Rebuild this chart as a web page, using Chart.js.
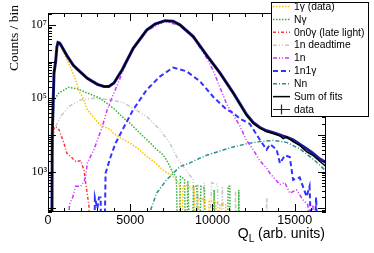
<!DOCTYPE html>
<html>
<head>
<meta charset="utf-8">
<title>Q_L spectrum fit</title>
<script src="https://cdn.jsdelivr.net/npm/chart.js@4/dist/chart.umd.min.js"></script>
<style>
  html, body { margin: 0; padding: 0; background: #fff; }
  canvas { display: block; }
</style>
</head>
<body>
<canvas id="qlChart" width="374" height="253"></canvas>
<script>
// counts per bin (0 = empty bin)
const qSum = [225, 260, 365, 465, 540, 608, 700, 770, 1170, 1540, 1780, 2390, 3000, 3400, 3700, 4010, 4510, 5180, 6000, 6500, 7110, 7600, 8020, 8830, 9640, 10450, 11260, 12070, 12470, 12880, 13290, 13700, 14100, 14300, 14500, 14900, 15300, 15720, 16100, 16530, 16900];
const nSum = [0, 11000, 490000, 1.0e6, 2.5e6, 3.3e6, 3.2e6, 2.9e6, 1.4e6, 7.9e5, 6.2e5, 3.5e5, 2.4e5, 2.1e5, 2.1e5, 2.6e5, 6.0e5, 2.3e6, 7.2e6, 1.05e7, 1.3e7, 1.25e7, 1.0e7, 4.8e6, 1.5e6, 4.9e5, 1.4e5, 3.5e4, 2.1e4, 1.55e4, 1.25e4, 1.1e4, 9500, 8000, 8900, 6600, 5200, 3500, 2800, 1900, 1400];
const nData = [0, 11000, 490000, 1.0e6, 2.5e6, 3.3e6, 3.2e6, 2.9e6, 1.4e6, 7.9e5, 6.2e5, 3.5e5, 2.4e5, 2.1e5, 2.1e5, 2.6e5, 6.0e5, 2.3e6, 7.2e6, 1.05e7, 1.3e7, 1.25e7, 1.0e7, 4.8e6, 1.5e6, 4.9e5, 1.4e5, 3.6e4, 2.2e4, 1.6e4, 1.3e4, 1.15e4, 1.0e4, 9300, 8700, 7400, 5600, 4200, 3200, 2200, 1800];

const qGamma = [225, 250, 365, 465, 540, 608, 700, 770, 1170, 1340, 1680, 1940, 2090, 2390, 2550, 3000, 3160, 3810, 3970, 4620, 4980, 5500, 6000, 6500, 7000, 7610, 8000, 8100, 8200, 8450, 8900, 9000, 9100, 9500, 9650, 9800, 10200, 10300, 10450, 10800, 10900];
const nGamma = [0, 7900, 4.0e5, 1.0e6, 2.5e6, 3.3e6, 3.0e6, 2.6e6, 1.1e6, 7.4e5, 3.2e5, 1.4e5, 1.1e5, 4.9e4, 4.0e4, 2.3e4, 1.9e4, 1.4e4, 1.1e4, 7400, 6000, 4200, 2600, 1800, 1100, 740, 450, 0, 400, 420, 350, 0, 180, 180, 0, 160, 160, 0, 125, 125, 0];

const qNGamma = [225, 260, 365, 500, 670, 1170, 1240, 1780, 2390, 3160, 4010, 4620, 4980, 5790, 6300, 6600, 6900, 7210, 7610, 7800, 7950, 8050, 8300, 8400, 8500, 8700, 8850, 9050, 9150, 9300, 9500, 9600, 10000, 10100, 10200, 10900, 10950, 11050, 11100, 11550, 11600, 11650];
const nNGamma = [0, 3200, 81000, 1.1e5, 1.4e5, 1.9e5, 2.0e5, 1.8e5, 1.4e5, 1.0e5, 52000, 28000, 21000, 9100, 5600, 4000, 3200, 2100, 910, 700, 0, 740, 630, 0, 560, 0, 400, 400, 0, 400, 350, 0, 0, 320, 0, 0, 400, 400, 0, 0, 320, 0];

const qLate = [225, 250, 365, 465, 670, 970, 1140, 1380, 1680, 1990, 2190, 2290, 2490, 2600];
const nLate = [0, 3200, 16000, 17000, 14000, 6000, 3200, 2600, 1900, 2000, 1100, 490, 115, 0];

const qDead = [225, 260, 365, 770, 1280, 1990, 2790, 3810, 4620, 4980, 6000, 6800, 7410, 7810, 8220, 8830, 9000, 9100, 9300, 9500, 9700, 9950, 10300, 10400, 10600, 10800, 11300, 11400, 11500, 13200, 13300, 13400];
const nDead = [0, 3200, 14000, 32000, 60000, 91000, 1.0e5, 91000, 74000, 60000, 32000, 14000, 6000, 2600, 1400, 600, 0, 450, 0, 500, 0, 500, 450, 0, 400, 0, 0, 300, 0, 0, 200, 0];

const q1n = [1100, 1300, 1500, 1680, 1990, 2200, 2290, 2390, 2790, 3300, 3600, 4010, 4420, 4800, 5180, 6000, 7110, 8020, 8830, 9640, 10050, 10450, 10850, 11260, 11660, 12070, 12470, 12880, 13290, 13490, 14100, 14400, 14700, 15100, 15510, 15800, 15950, 16100, 16250];
const n1n = [0, 125, 200, 400, 400, 560, 740, 1740, 4000, 17000, 49000, 1.4e5, 3.9e5, 1.0e6, 2.2e6, 6.9e6, 1.26e7, 9.5e6, 4.5e6, 1.26e6, 5.6e5, 2.0e5, 7.1e4, 3.5e4, 1.8e4, 7100, 4000, 2000, 1260, 910, 450, 500, 260, 320, 170, 125, 0, 125, 0];

const q1n1g = [2800, 2850, 3000, 3100, 3200, 3250, 3400, 3500, 3810, 4110, 4600, 5180, 6000, 6800, 7610, 8430, 9240, 10040, 10860, 11260, 11660, 12270, 12880, 13290, 13500, 13900, 14100, 14400, 14700, 14900, 15300, 15720, 15900, 16100, 16300, 16450];
const n1n1g = [0, 200, 100, 200, 200, 0, 0, 910, 2600, 6000, 16000, 49000, 1.7e5, 3.9e5, 6.9e5, 5.4e5, 2.9e5, 1.1e5, 49000, 40000, 28000, 20000, 7400, 4000, 5600, 4000, 1700, 2800, 2500, 600, 700, 210, 400, 0, 200, 0];

const qNn = [6100, 6200, 6600, 7210, 8020, 8630, 9040, 9640, 10040, 10860, 11260, 12070, 12870, 13690, 14500, 15310, 16120, 16900];
const nNn = [0, 80, 260, 600, 1380, 1740, 2140, 2800, 3200, 4200, 4700, 5800, 6600, 7100, 6300, 4200, 2200, 1050];

const xTicks = [0, 5000, 10000, 15000];
const yTicks = [1e3, 1e5, 1e7];

const sup = { 3: '\u00B3', 5: '\u2075', 7: '\u2077' };

// empty bins go below the axis so ROOT-like drops reach the bottom
function pts(q, n) {
  return q.map(function (x, i) { return { x: x, y: n[i] > 0 ? n[i] : 1 }; });
}

const series = [
  { label: '1\u03B3 (data)', q: qGamma, n: nGamma, color: '#ffc000', dash: [1.5, 1.5], width: 1.5, order: 5 },
  { label: 'N\u03B3', q: qNGamma, n: nNGamma, color: '#33b033', dash: [1.5, 1.5], width: 1.5, order: 6 },
  { label: '0n0\u03B3 (late light)', q: qLate, n: nLate, color: '#ff3333', dash: [3, 2, 1, 2], width: 1.5, order: 7 },
  { label: '1n deadtime', q: qDead, n: nDead, color: '#c8c8c8', dash: [4, 2, 1, 2, 1, 2], width: 1.5, order: 9 },
  { label: '1n', q: q1n, n: n1n, color: '#cc33ff', dash: [4, 2, 1, 2, 1, 2], width: 1.5, order: 4 },
  { label: '1n1\u03B3', q: q1n1g, n: n1n1g, color: '#3333ff', dash: [5, 3], width: 2, order: 3 },
  { label: 'Nn', q: qNn, n: nNn, color: '#2a8c8c', dash: [4, 2, 1, 2], width: 1.5, order: 8 },
  { label: 'Sum of fits', q: qSum, n: nSum, color: '#000000', dash: [], width: 1.5, order: 1 },
  { label: 'data', q: qSum, n: nData, color: '#1c1c90', dash: [], width: 3, order: 2 }
];

const rootDecor = {
  id: 'rootDecor',
  afterDraw: function (chart) {
    const ctx = chart.ctx, a = chart.chartArea;
    const xs = chart.scales.x, ys = chart.scales.y;
    ctx.save();
    ctx.strokeStyle = '#000';
    ctx.lineWidth = 1;
    ctx.setLineDash([]);
    ctx.beginPath();
    for (let v = 0; v <= xs.max; v += 1000) {
      const px = Math.round(xs.getPixelForValue(v)) + 0.5;
      const len = v % 5000 === 0 ? 8 : 4;
      ctx.moveTo(px, a.bottom); ctx.lineTo(px, a.bottom - len);
      ctx.moveTo(px, a.top); ctx.lineTo(px, a.top + len);
    }
    for (let d = 1; d <= 7; d++) {
      for (let m = 1; m <= 9; m++) {
        const v = m * Math.pow(10, d);
        if (v < ys.min || v > ys.max) continue;
        const py = Math.round(ys.getPixelForValue(v)) + 0.5;
        const len = m === 1 ? 8 : 4;
        ctx.moveTo(a.left, py); ctx.lineTo(a.left + len, py);
        ctx.moveTo(a.right, py); ctx.lineTo(a.right - len, py);
      }
    }
    ctx.stroke();
    ctx.strokeRect(a.left + 0.5, a.top + 0.5, a.right - a.left - 1, a.bottom - a.top - 1);

    // axis titles
    ctx.fillStyle = '#000';
    ctx.textBaseline = 'alphabetic';
    ctx.font = '14px "Liberation Sans", Arial, sans-serif';
    const wQ = ctx.measureText('Q').width;
    const rest = ' (arb. units)';
    const wRest = ctx.measureText(rest).width;
    ctx.font = '10px "Liberation Sans", Arial, sans-serif';
    const wL = ctx.measureText('L').width;
    let tx = 325 - (wQ + wL + wRest);
    ctx.font = '14px "Liberation Sans", Arial, sans-serif';
    ctx.textAlign = 'left';
    ctx.fillText('Q', tx, 238);
    ctx.font = '10px "Liberation Sans", Arial, sans-serif';
    ctx.fillText('L', tx + wQ, 242);
    ctx.font = '14px "Liberation Sans", Arial, sans-serif';
    ctx.fillText(rest, tx + wQ + wL, 238);

    ctx.save();
    ctx.translate(18, 5);
    ctx.rotate(-Math.PI / 2);
    ctx.textAlign = 'right';
    ctx.font = '13.5px "Liberation Serif", "Times New Roman", serif';
    ctx.fillText('Counts / bin', 0, 0);
    ctx.restore();

    // legend box
    ctx.fillStyle = '#fff';
    ctx.fillRect(271, 3, 98, 114);
    ctx.strokeRect(271.5, 2.5, 97, 114);
    ctx.font = '10.3px "Liberation Sans", Arial, sans-serif';
    ctx.textAlign = 'left';
    ctx.textBaseline = 'middle';
    series.forEach(function (s, i) {
      const cy = 6.5 + 12.875 * i;
      ctx.strokeStyle = s.color;
      ctx.lineWidth = s.width;
      ctx.setLineDash(s.dash);
      ctx.beginPath();
      ctx.moveTo(273, cy); ctx.lineTo(290, cy);
      if (s.label === 'data') {
        ctx.setLineDash([]);
        ctx.lineWidth = 1.2;
        ctx.moveTo(281.5, cy - 5); ctx.lineTo(281.5, cy + 5);
      }
      ctx.stroke();
      ctx.fillStyle = '#000';
      ctx.fillText(s.label, 294, cy + 0.5);
    });
    ctx.restore();
  }
};

new Chart(document.getElementById('qlChart'), {
  type: 'line',
  data: {
    datasets: series.map(function (s) {
      return {
        label: s.label,
        data: pts(s.q, s.n),
        borderColor: s.color,
        borderDash: s.dash,
        borderWidth: s.width,
        order: s.order,
        pointRadius: 0,
        fill: false,
        tension: 0
      };
    })
  },
  options: {
    responsive: false,
    animation: false,
    devicePixelRatio: 1,
    layout: { padding: { top: 13, right: 48, left: 0, bottom: 0 } },
    plugins: { legend: { display: false }, tooltip: { enabled: false } },
    scales: {
      x: {
        type: 'linear',
        min: 0,
        max: 16900,
        grid: { display: false, drawTicks: false },
        border: { display: false },
        afterBuildTicks: function (s) { s.ticks = xTicks.map(function (v) { return { value: v }; }); },
        afterFit: function (s) { s.height = 41; },
        ticks: {
          color: '#000',
          padding: 1,
          maxRotation: 0,
          font: { family: '"Liberation Sans", Arial, sans-serif', size: 12.5 },
          callback: function (v) { return String(v); }
        }
      },
      y: {
        type: 'logarithmic',
        min: 80,
        max: 2.1e7,
        grid: { display: false, drawTicks: false },
        border: { display: false },
        afterBuildTicks: function (s) { s.ticks = yTicks.map(function (v) { return { value: v }; }); },
        afterFit: function (s) { s.width = 48; },
        ticks: {
          color: '#000',
          padding: 1,
          font: { family: '"Liberation Serif", "Times New Roman", serif', size: 12 },
          callback: function (v) { return '10' + sup[Math.round(Math.log10(v))]; }
        }
      }
    }
  },
  plugins: [rootDecor]
});
</script>
</body>
</html>
